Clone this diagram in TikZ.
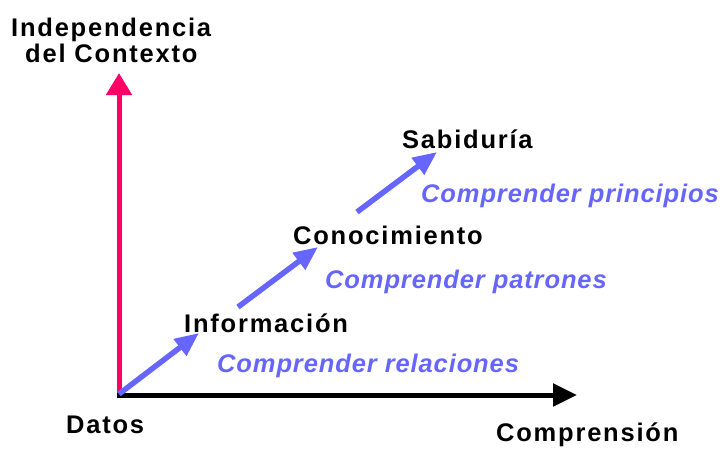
\documentclass[tikz,border=0pt]{standalone}
\usepackage{fontspec}
\setmainfont{Liberation Sans}
\usetikzlibrary{arrows.meta}
\newfontfamily\blackfont[LetterSpace=7]{Liberation Sans}
\newfontfamily\bluefont[LetterSpace=3.5]{Liberation Sans}
\definecolor{axispink}{RGB}{255,0,102}
\definecolor{stepblue}{RGB}{102,102,255}
\tikzset{
  lbl/.style={anchor=base west, inner sep=0pt, font=\blackfont\bfseries\fontsize{25.5}{30}\selectfont, text=black},
  blbl/.style={anchor=base west, inner sep=0pt, font=\bluefont\bfseries\itshape\fontsize{25.5}{30}\selectfont, text=stepblue},
  stepline/.style={draw=stepblue, line width=5.5pt, -{Triangle[length=24pt,width=20pt]}},
}
\begin{document}
\begin{tikzpicture}[x=1pt,y=-1pt]
\useasboundingbox (0,0) rectangle (723,448);
% coordinates
\coordinate (o) at (119,395);
\coordinate (ytop) at (119,73);
\coordinate (xend) at (577,395);
\coordinate (a1s) at (119,394);
\coordinate (a1e) at (199,333);
\coordinate (a2s) at (238,307);
\coordinate (a2e) at (318,247);
\coordinate (a3s) at (357,212);
\coordinate (a3e) at (437,152);
% axes
\draw[axispink, line width=5pt, -{Triangle[length=22pt,width=25pt]}] (o) -- (ytop);
\draw[black, line width=5pt, -{Triangle[length=24pt,width=22pt]}] ([xshift=-2.5pt]o) -- (xend);
% steps
\draw[stepline] (a1s) -- (a1e);
\draw[stepline] (a2s) -- (a2e);
\draw[stepline] (a3s) -- (a3e);
% labels
\node[lbl] (indep) at (11,36) {Independencia};
\node[lbl] (ctx) at (25,62) {del Contexto};
\node[lbl] (datos) at (66,433) {Datos};
\node[lbl] (compr) at (496,441) {Comprensión};
\node[lbl] (info) at (184,332) {Información};
\node[lbl] (cono) at (293,244) {Conocimiento};
\node[lbl] (sabi) at (402,148) {Sabiduría};
\node[blbl] (rel) at (217,372) {Comprender relaciones};
\node[blbl] (pat) at (325,288) {Comprender patrones};
\node[blbl] (pri) at (421,202) {Comprender principios};
\end{tikzpicture}
\end{document}
